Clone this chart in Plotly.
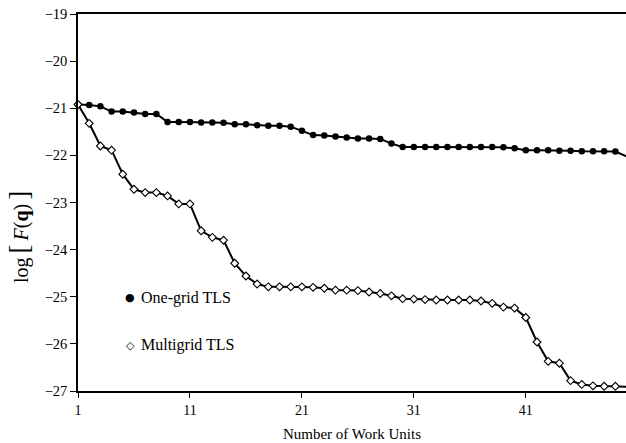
import plotly.graph_objects as go

work_units = list(range(1, 51))

one_grid = [-20.92, -20.93, -20.96, -21.07, -21.07, -21.09, -21.12, -21.12, -21.29, -21.29,
            -21.29, -21.30, -21.30, -21.31, -21.34, -21.34, -21.36, -21.37, -21.37, -21.39,
            -21.48, -21.57, -21.58, -21.60, -21.62, -21.64, -21.64, -21.65, -21.75, -21.82,
            -21.82, -21.82, -21.82, -21.82, -21.82, -21.82, -21.82, -21.82, -21.83, -21.85,
            -21.89, -21.89, -21.89, -21.90, -21.90, -21.91, -21.91, -21.91, -21.92, -22.02]

multigrid = [-20.92, -21.32, -21.80, -21.89, -22.40, -22.72, -22.79, -22.79, -22.86, -23.03,
             -23.03, -23.60, -23.74, -23.80, -24.29, -24.56, -24.73, -24.79, -24.79, -24.79,
             -24.79, -24.80, -24.82, -24.86, -24.86, -24.87, -24.90, -24.93, -24.98, -25.04,
             -25.05, -25.06, -25.07, -25.07, -25.07, -25.07, -25.09, -25.14, -25.22, -25.24,
             -25.44, -25.96, -26.37, -26.41, -26.78, -26.86, -26.89, -26.90, -26.90, -26.91]

series_names = ["One-grid TLS", "Multigrid TLS"]
x_ticks = [1, 11, 21, 31, 41]
y_ticks = [-19, -20, -21, -22, -23, -24, -25, -26, -27]

FONT = "Liberation Serif"

fig = go.Figure()
fig.add_trace(go.Scatter(
    x=work_units, y=one_grid, mode="lines+markers", name=series_names[0], cliponaxis=False,
    line=dict(color="black", width=2),
    marker=dict(symbol="circle", size=6.5, color="black")))
fig.add_trace(go.Scatter(
    x=work_units, y=multigrid, mode="lines+markers", name=series_names[1], cliponaxis=False,
    line=dict(color="black", width=2),
    marker=dict(symbol="diamond", size=6, color="white", line=dict(color="black", width=1.1))))

# in-plot key: symbol glyph + label, as in the reference
key_glyphs = ["●", "◇"]
key_y = [0.2467, 0.122]
for glyph, label, yy in zip(key_glyphs, series_names, key_y):
    fig.add_annotation(xref="paper", yref="paper", x=0.0949, y=yy, text=glyph,
                       showarrow=False, xanchor="center", yanchor="middle",
                       font=dict(family="DejaVu Sans", size=11, color="black"))
    fig.add_annotation(xref="paper", yref="paper", x=0.111, y=yy, text=label,
                       showarrow=False, xanchor="left", yanchor="middle",
                       font=dict(family=FONT, size=16, color="black"))

# y-axis title (placed like the reference, a bit below centre)
fig.add_annotation(xref="paper", yref="paper", x=-0.108, y=0.408,
                   text="log\u2009<span style='font-size:27px'>[</span>\u2009<i>F</i>(<b>q</b>)\u2009<span style='font-size:27px'>]</span>",
                   textangle=-90, showarrow=False, xanchor="center", yanchor="middle",
                   font=dict(family=FONT, size=20, color="black"))

fig.update_layout(
    width=626, height=443,
    margin=dict(l=78, r=0, t=14, b=52),
    paper_bgcolor="white", plot_bgcolor="white",
    font=dict(family=FONT, size=14, color="black"),
    showlegend=False,
    xaxis=dict(range=[1, 49.95], tickvals=x_ticks, ticktext=[str(v) for v in x_ticks],
               showgrid=False, zeroline=False, showline=True, linecolor="black", linewidth=1.5,
               mirror=True, ticks="outside", ticklen=5, tickwidth=1.2, tickcolor="black",
               tickfont=dict(family=FONT, size=14),
               title=dict(text="Number of Work Units", standoff=12,
                          font=dict(family=FONT, size=15))),
    yaxis=dict(range=[-27, -19], tickvals=y_ticks,
               showgrid=False, zeroline=False, showline=True, linecolor="black", linewidth=1.5,
               ticks="outside", ticklen=6, tickwidth=1.2, tickcolor="black",
               tickfont=dict(family=FONT, size=14.5)),
)

fig.write_html("out.html")
